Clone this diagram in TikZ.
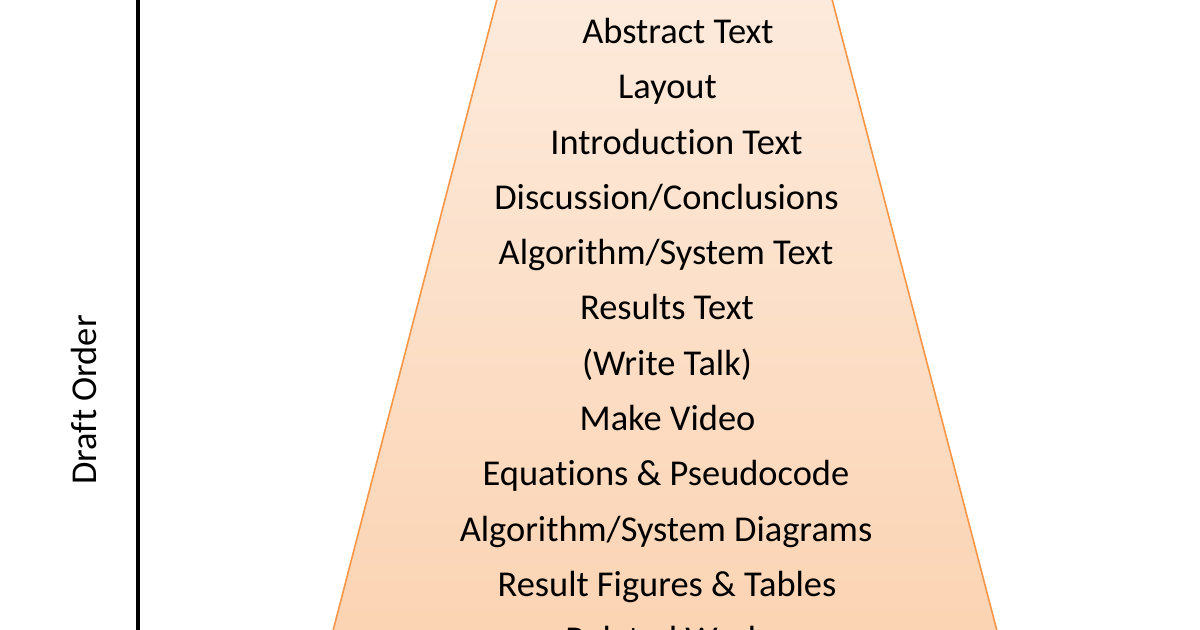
\documentclass[tikz,border=0pt]{standalone}
\usepackage{fontspec}
\setmainfont[Ligatures=NoCommon]{Carlito}
\definecolor{edgeorange}{HTML}{F79646}
\definecolor{peachtop}{HTML}{FDEBDD}
\definecolor{peachbot}{HTML}{FBD3B2}
\begin{document}
\begin{tikzpicture}[x=0.5pt,y=-0.5pt,
  lbl/.style={anchor=base,inner sep=0pt,font=\fontsize{18.2}{22}\selectfont}]
\useasboundingbox (0,0) rectangle (1200,630);
\clip (0,0) rectangle (1200,630);
\fill[white] (0,0) rectangle (1200,630);
% trapezoid
\coordinate (tl) at (502,-20);
\coordinate (tr) at (827,-20);
\coordinate (bl) at (328,650);
\coordinate (br) at (1002,650);
\shade[top color=peachtop,bottom color=peachbot,draw=edgeorange,line width=0.8pt]
  (tl) -- (tr) -- (br) -- (bl) -- cycle;
% axis
\coordinate (axtop) at (138,-10);
\coordinate (axbot) at (138,640);
\draw[line width=1.6pt] (axtop) -- (axbot);
\node[lbl,rotate=90] (draft) at (96,400) {Draft Order};
% labels
\node[lbl] (l1) at (678,43.5) {Abstract Text};
\node[lbl] (l2) at (667.5,98.8) {Layout};
\node[lbl] (l3) at (676.5,154.1) {Introduction Text};
\node[lbl] (l4) at (666.5,209.4) {Discussion/Conclusions};
\node[lbl] (l5) at (666,264.7) {Algorithm/System Text};
\node[lbl] (l6) at (667,320) {Results Text};
\node[lbl] (l7) at (667,375.3) {(Write Talk)};
\node[lbl] (l8) at (667.5,430.6) {Make Video};
\node[lbl] (l9) at (666,485.9) {Equations \& Pseudocode};
\node[lbl] (l10) at (666,541.2) {Algorithm/System Diagrams};
\node[lbl] (l11) at (667,596.5) {Result Figures \& Tables};
\node[lbl] (l12) at (665,651.8) {Related Work};
\end{tikzpicture}
\end{document}
